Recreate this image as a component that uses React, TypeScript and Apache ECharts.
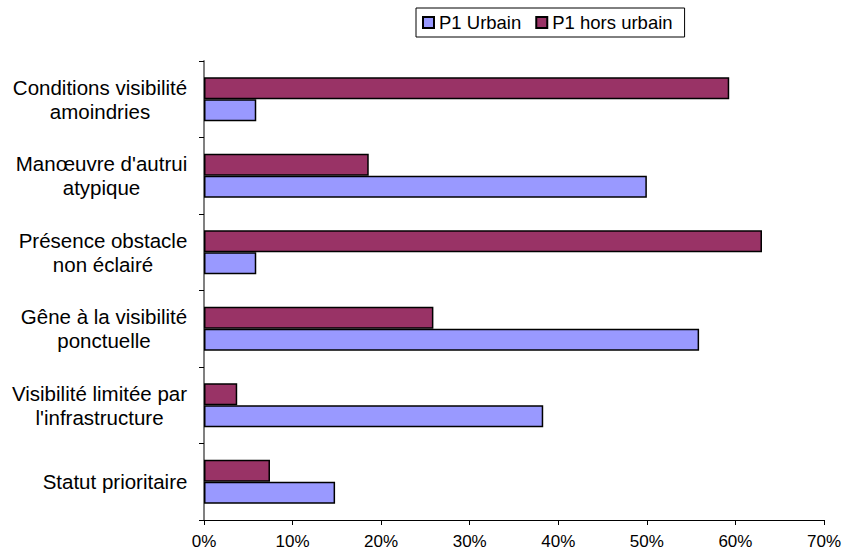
import React, { useEffect, useRef } from "react";
import * as echarts from "echarts";

const categories = [
  "Conditions visibilité\namoindries",
  "Manœuvre d'autrui\natypique",
  "Présence obstacle\nnon éclairé",
  "Gêne à la visibilité\nponctuelle",
  "Visibilité limitée par\nl'infrastructure",
  "Statut prioritaire",
];
const urbain = [5.9, 50.0, 5.9, 55.9, 38.3, 14.8];
const horsUrbain = [59.3, 18.6, 63.0, 25.9, 3.75, 7.45];
const xTicks = [0, 10, 20, 30, 40, 50, 60, 70];

const FONT = "'Liberation Sans', Arial, Helvetica, sans-serif";
const CAT_SIZE = 20.5;

function measureWidths(): number[] {
  const canvas = document.createElement("canvas");
  const ctx = canvas.getContext("2d");
  return categories.map((c) => {
    const lines = c.split("\n");
    if (!ctx) return 180;
    ctx.font = `${CAT_SIZE}px ${FONT}`;
    return Math.ceil(Math.max(...lines.map((l) => ctx.measureText(l).width))) + 1;
  });
}

export default function App() {
  const ref = useRef<HTMLDivElement>(null);
  useEffect(() => {
    if (!ref.current) return;
    const chart = echarts.init(ref.current, null, { renderer: "svg" });
    const widths = measureWidths();
    const rich: Record<string, any> = {};
    widths.forEach((w, i) => {
      rich[`c${i}`] = {
        width: w,
        align: "center",
        fontSize: CAT_SIZE,
        fontFamily: FONT,
        color: "#000",
        lineHeight: 24,
      };
    });
    chart.setOption({
      animation: false,
      backgroundColor: "#ffffff",
      textStyle: { fontFamily: FONT },
      grid: { left: 204, right: 18, top: 61, bottom: 34, containLabel: false },
      legend: {
        data: ["P1 Urbain", "P1 hors urbain"],
        left: 416,
        top: 8,
        padding: [5, 12, 5, 6],
        itemGap: 14,
        itemWidth: 11,
        itemHeight: 11,
        borderColor: "#000",
        borderWidth: 1,
        icon: "rect",
        itemStyle: { borderColor: "#000", borderWidth: 2 },
        textStyle: { fontSize: 18.5, color: "#000", fontFamily: FONT },
      },
      xAxis: {
        type: "value",
        min: 0,
        max: xTicks[xTicks.length - 1],
        interval: 10,
        axisLine: { show: true, lineStyle: { color: "#000", width: 1 } },
        axisTick: { show: true, length: 5, lineStyle: { color: "#000" } },
        splitLine: { show: false },
        axisLabel: {
          formatter: (v: number) => `${v}%`,
          fontSize: 17,
          color: "#000",
          margin: 13,
          fontFamily: FONT,
        },
      },
      yAxis: {
        type: "category",
        data: categories,
        inverse: true,
        axisLine: { show: true, lineStyle: { color: "#808080", width: 2 } },
        axisTick: { show: true, length: 5, lineStyle: { color: "#000" } },
        axisLabel: {
          fontSize: CAT_SIZE,
          color: "#000",
          margin: 16,
          align: "right",
          lineHeight: 24,
          fontFamily: FONT,
          rich,
          formatter: (v: string, idx: number) =>
            v
              .split("\n")
              .map((l) => `{c${idx}|${l}}`)
              .join("\n"),
        },
      },
      series: [
        {
          name: "P1 hors urbain",
          type: "bar",
          data: horsUrbain,
          barWidth: 22,
          barGap: "0%",
          itemStyle: { color: "#993366", borderColor: "#000", borderWidth: 1.5 },
        },
        {
          name: "P1 Urbain",
          type: "bar",
          data: urbain,
          barWidth: 22,
          barGap: "0%",
          itemStyle: { color: "#9999FF", borderColor: "#000", borderWidth: 1.5 },
        },
      ],
    });
    return () => chart.dispose();
  }, []);
  return <div ref={ref} style={{ width: 844, height: 554, position: "absolute", left: 0, top: 0 }} />;
}
